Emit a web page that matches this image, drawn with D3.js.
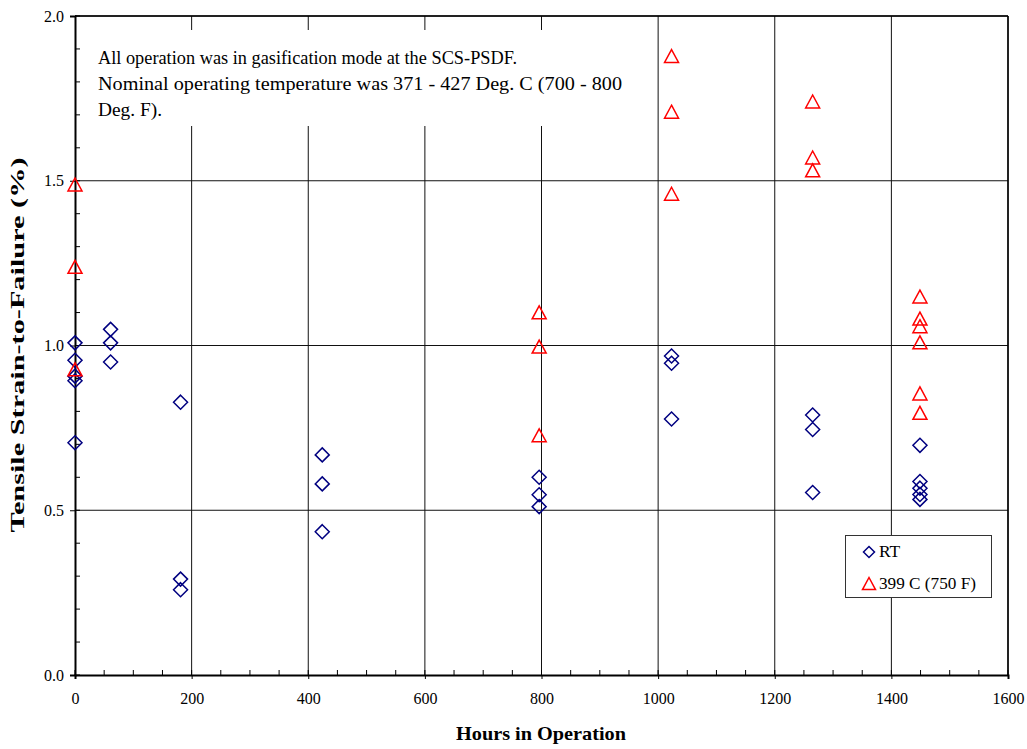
<!DOCTYPE html>
<html><head><meta charset="utf-8">
<script src="https://cdn.jsdelivr.net/npm/d3@7"></script>
<style>body{margin:0;background:#fff}svg{display:block}</style>
</head><body><svg id="c" width="1027" height="749" font-family="'Liberation Serif','Times New Roman','DejaVu Serif',serif"></svg>
<script>
const rtHours = [0,0,0,0,0, 61,61,61, 181,181,181, 424,424,424, 796,796,796, 1023,1023,1023, 1265,1265,1265, 1449,1449,1449,1449,1449];
const rtStrain = [1.008,0.955,0.907,0.893,0.705, 1.049,1.008,0.95, 0.828,0.291,0.259, 0.668,0.58,0.435, 0.600,0.547,0.511, 0.968,0.946,0.777, 0.789,0.745,0.554, 0.697,0.587,0.567,0.548,0.533];
const hotHours = [0,0,0, 796,796,796, 1023,1023,1023, 1265,1265,1265, 1449,1449,1449,1449,1449,1449];
const hotStrain = [1.487,1.237,0.926, 1.099,0.995,0.726, 1.877,1.708,1.459, 1.739,1.569,1.530, 1.147,1.080,1.057,1.008,0.853,0.794];
const xTicks = [0,200,400,600,800,1000,1200,1400,1600];
const yTicks = [0,0.5,1.0,1.5,2.0];
const seriesNames = ["RT","399 C (750 F)"];
const noteLines = ["All operation was in gasification mode at the SCS-PSDF.","Nominal operating temperature was 371 - 427 Deg. C (700 - 800","Deg. F)."];
const noteWidths = [419,524,64];

const FONT = "'Liberation Serif','Times New Roman','DejaVu Serif',serif";
const svg = d3.select("#c");
const L=75,R=1008,T=16,B=675;
const x = d3.scaleLinear().domain([0,1600]).range([L,R]);
const y = d3.scaleLinear().domain([0,2]).range([B,T]);

// gridlines
const g = svg.append("g");
g.selectAll(".vg").data(xTicks.slice(1)).enter().append("line")
 .attr("x1",d=>x(d)).attr("x2",d=>x(d)).attr("y1",T).attr("y2",B)
 .attr("stroke","#111").attr("stroke-width",1);
g.selectAll(".hg").data(yTicks.slice(1)).enter().append("line")
 .attr("x1",L).attr("x2",R).attr("y1",d=>y(d)).attr("y2",d=>y(d))
 .attr("stroke","#111").attr("stroke-width",1);

// annotation box
svg.append("rect").attr("x",88).attr("y",30).attr("width",560).attr("height",96).attr("fill","#fff");
svg.append("g").selectAll("text").data(noteLines).enter().append("text")
 .attr("x",98).attr("y",(d,i)=>64+i*26).attr("font-size",18.5).attr("font-family",FONT).attr("fill","#000")
 .attr("textLength",(d,i)=>noteWidths[i]).attr("lengthAdjust","spacingAndGlyphs").text(d=>d);

// minor ticks (inside)
const minorY = d3.range(0,2.0001,0.1);
svg.append("g").selectAll("line").data(minorY).enter().append("line")
 .attr("x1",L).attr("x2",L+5).attr("y1",d=>y(d)).attr("y2",d=>y(d)).attr("stroke","#000");
const minorX = d3.range(0,1600.1,50);
svg.append("g").selectAll("line").data(minorX).enter().append("line")
 .attr("x1",d=>x(d)).attr("x2",d=>x(d)).attr("y1",B).attr("y2",B-5).attr("stroke","#000");

// axes
const xAxis = d3.axisBottom(x).tickValues(xTicks).tickFormat(d3.format("d")).tickSize(4).tickPadding(14);
const yAxis = d3.axisLeft(y).tickValues(yTicks).tickFormat(d3.format(".1f")).tickSize(5).tickPadding(6);
const xa = svg.append("g").attr("transform",`translate(0,${B})`).call(xAxis);
const ya = svg.append("g").attr("transform",`translate(${L},0)`).call(yAxis);
[xa,ya].forEach(a=>{a.attr("font-family",FONT).attr("font-size",16);
 a.select(".domain").attr("stroke","#000").attr("stroke-width",2);
 a.selectAll("text").attr("fill","#000");
 a.selectAll(".tick line").attr("stroke","#000");});
// top/right frame
svg.append("line").attr("x1",L).attr("x2",R).attr("y1",T).attr("y2",T).attr("stroke","#000").attr("stroke-width",1.5);
svg.append("line").attr("x1",R).attr("x2",R).attr("y1",T).attr("y2",B).attr("stroke","#000").attr("stroke-width",1.5);

// markers
const diamond = s=>`M0,${-s}L${s},0L0,${s}L${-s},0Z`;
const tri = s=>`M0,${-s}L${s},${s*0.85}L${-s},${s*0.85}Z`;
svg.append("g").selectAll("path").data(rtHours.map((h,i)=>[h,rtStrain[i]])).enter().append("path")
 .attr("d",diamond(7)).attr("transform",d=>`translate(${x(d[0])},${y(d[1])})`)
 .attr("fill","none").attr("stroke","#000080").attr("stroke-width",1.5);
svg.append("g").selectAll("path").data(hotHours.map((h,i)=>[h,hotStrain[i]])).enter().append("path")
 .attr("d",tri(7)).attr("transform",d=>`translate(${x(d[0])},${y(d[1])})`)
 .attr("fill","none").attr("stroke","#ff0000").attr("stroke-width",1.5);

// legend
svg.append("rect").attr("x",845.5).attr("y",535.5).attr("width",146).attr("height",62)
 .attr("fill","#fff").attr("stroke","#333").attr("stroke-width",1);
svg.append("path").attr("d",diamond(5.5)).attr("transform","translate(869,552)").attr("fill","none").attr("stroke","#000080").attr("stroke-width",1.5);
svg.append("path").attr("d",tri(6.5)).attr("transform","translate(869,584)").attr("fill","none").attr("stroke","#ff0000").attr("stroke-width",1.5);
svg.append("text").attr("x",879).attr("y",557).attr("font-size",17.5).attr("font-family",FONT).text(seriesNames[0]);
svg.append("text").attr("x",879).attr("y",589).attr("font-size",17.5).attr("font-family",FONT).attr("textLength",97).attr("lengthAdjust","spacingAndGlyphs").text(seriesNames[1]);

// axis titles
svg.append("text").attr("x",541).attr("y",740).attr("text-anchor","middle").attr("font-size",19).attr("font-weight","bold").attr("font-family",FONT)
 .attr("textLength",170).attr("lengthAdjust","spacingAndGlyphs").text("Hours in Operation");
svg.append("text").attr("transform","translate(24,345) rotate(-90)").attr("text-anchor","middle").attr("font-size",18).attr("font-weight","bold").attr("font-family",FONT)
 .attr("textLength",375).attr("lengthAdjust","spacingAndGlyphs").text("Tensile Strain-to-Failure (%)");
</script></body></html>
